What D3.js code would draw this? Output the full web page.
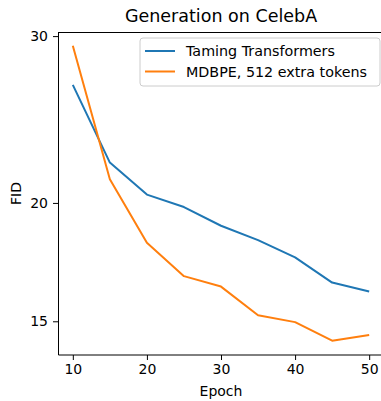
<!DOCTYPE html>
<html>
<head>
<meta charset="utf-8">
<script src="https://cdn.jsdelivr.net/npm/d3@7"></script>
<style>
  body { margin: 0; background: #fff; }
  text { font-family: "DejaVu Sans", sans-serif; fill: #000; }
</style>
</head>
<body>
<svg></svg>
<script>
const epochs = [10, 15, 20, 25, 30, 35, 40, 45, 50];
const tamingFID = [26.65, 22.06, 20.41, 19.8, 18.92, 18.27, 17.52, 16.48, 16.13];
const mdbpeFID = [29.3, 21.18, 18.15, 16.74, 16.32, 15.22, 14.97, 14.31, 14.51];
const seriesNames = ['Taming Transformers', 'MDBPE, 512 extra tokens'];
const seriesColors = ['#1f77b4', '#ff7f0e'];
const xTicks = [10, 20, 30, 40, 50];
const yTicks = [15, 20, 30];

const size = {w: 381, h: 401};
const margin = {t: 32, r: -3, b: 46, l: 58};
const svg = d3.select('svg')
    .attr('width', size.w)
    .attr('height', size.h);

const innerW = size.w - margin.l - margin.r;
const innerH = size.h - margin.t - margin.b;

// log y scale, matplotlib-like 5% margins
const x = d3.scaleLinear().domain([8, 52]).range([0, innerW]);
const y = d3.scaleLog().domain([13.82, 30.3]).range([innerH, 0]);

const g = svg.append('g')
    .attr('transform', `translate(${margin.l},${margin.t})`);

// axes
const xAxis = g.append('g')
    .attr('transform', `translate(0,${innerH})`)
    .call(d3.axisBottom(x).tickValues(xTicks).tickSize(5).tickPadding(4).tickFormat(d3.format('d')));
const yAxis = g.append('g')
    .call(d3.axisLeft(y).tickValues(yTicks).tickSize(5).tickPadding(5).tickFormat(d3.format('d')));

[xAxis, yAxis].forEach(a => {
    a.selectAll('text').style('font-size', '14px').style('font-family', '"DejaVu Sans", sans-serif');
    a.selectAll('line').attr('stroke', '#000').attr('stroke-width', 1);
    a.select('.domain').attr('stroke', '#000').attr('stroke-width', 1);
});
xAxis.select('.domain').attr('d', `M0.5,0H${innerW}`);
yAxis.select('.domain').attr('d', `M0.5,${innerH}V0`);

// top spine
g.append('line')
    .attr('x1', 0).attr('x2', innerW)
    .attr('y1', 0.5).attr('y2', 0.5)
    .attr('stroke', '#000');

// lines
const line = d3.line()
    .x(d => x(d[0]))
    .y(d => y(d[1]));

[tamingFID, mdbpeFID].forEach((vals, i) => {
    g.append('path')
        .datum(epochs.map((e, j) => [e, vals[j]]))
        .attr('fill', 'none')
        .attr('stroke', seriesColors[i])
        .attr('stroke-width', 2)
        .attr('stroke-linejoin', 'round')
        .attr('d', line);
});

// title + labels
svg.append('text')
    .attr('x', margin.l + innerW / 2)
    .attr('y', 22)
    .attr('text-anchor', 'middle')
    .style('font-size', '17.5px')
    .text('Generation on CelebA');

svg.append('text')
    .attr('x', margin.l + innerW / 2)
    .attr('y', 396)
    .attr('text-anchor', 'middle')
    .style('font-size', '14px')
    .text('Epoch');

svg.append('text')
    .attr('transform', `translate(21,${margin.t + innerH / 2}) rotate(-90)`)
    .attr('text-anchor', 'middle')
    .style('font-size', '14px')
    .text('FID');

// legend
const legend = svg.append('g').attr('transform', 'translate(140,38)');
legend.append('rect')
    .attr('x', 0).attr('y', 0)
    .attr('width', 240).attr('height', 48)
    .attr('rx', 3)
    .attr('fill', '#fff')
    .attr('fill-opacity', 0.8)
    .attr('stroke', '#ccc');

seriesNames.forEach((name, i) => {
    const ly = 13 + i * 20.5;
    legend.append('line')
        .attr('x1', 5).attr('x2', 35)
        .attr('y1', ly).attr('y2', ly)
        .attr('stroke', seriesColors[i])
        .attr('stroke-width', 2);
    legend.append('text')
        .attr('x', 46).attr('y', ly + 5)
        .style('font-size', '14.3px')
        .text(name);
});
</script>
</body>
</html>
